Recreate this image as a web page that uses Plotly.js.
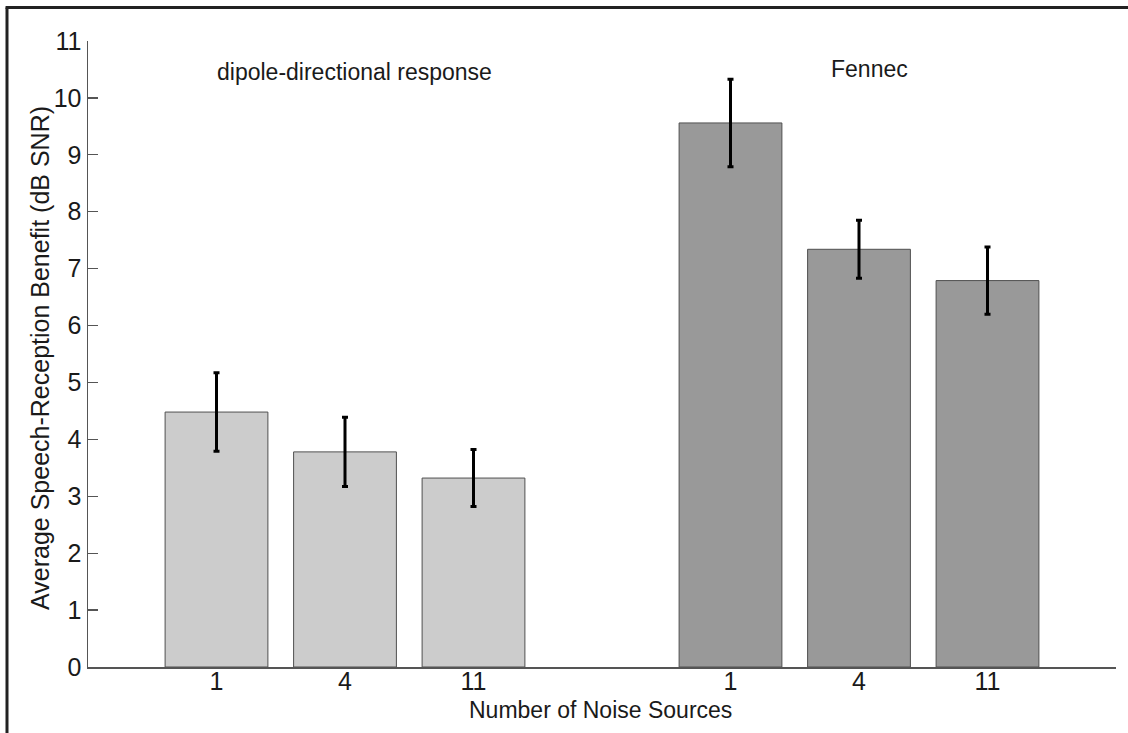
<!DOCTYPE html>
<html>
<head>
<meta charset="utf-8">
<script src="https://cdn.plot.ly/plotly-3.0.1.min.js"></script>
<style>
  html, body { margin: 0; padding: 0; background: #fff; }
  #chart { width: 1128px; height: 733px; }
</style>
</head>
<body>
<div id="chart"></div>
<script>
// Data
const noiseSources = ['1', '4', '11'];
const groupNames = ['dipole-directional response', 'Fennec'];
const xAxisTitle = 'Number of Noise Sources';
const yAxisTitle = 'Average Speech-Reception Benefit (dB SNR)';
const dipoleValues = [4.48, 3.78, 3.32];
const dipoleErrors = [0.69, 0.61, 0.50];
const fennecValues = [9.56, 7.34, 6.79];
const fennecErrors = [0.77, 0.51, 0.59];
const yTicks = [0, 1, 2, 3, 4, 5, 6, 7, 8, 9, 10, 11];

// Bar slots: group 1 at 1..3, gap, group 2 at 5..7
const dipoleX = noiseSources.map((_, i) => i + 1);
const fennecX = noiseSources.map((_, i) => i + 5);

const font = "'Liberation Sans', Arial, sans-serif";
const txt = '#1a1a1a';

const traces = [
  {
    type: 'bar', x: dipoleX, y: dipoleValues, width: 0.8,
    marker: { color: '#cccccc', line: { color: '#505050', width: 1 } },
    error_y: { type: 'data', array: dipoleErrors, visible: true, color: '#000000', thickness: 3, width: 3 },
    showlegend: false, hoverinfo: 'y'
  },
  {
    type: 'bar', x: fennecX, y: fennecValues, width: 0.8,
    marker: { color: '#999999', line: { color: '#505050', width: 1 } },
    error_y: { type: 'data', array: fennecErrors, visible: true, color: '#000000', thickness: 3, width: 3 },
    showlegend: false, hoverinfo: 'y'
  }
];

const layout = {
  width: 1128, height: 733,
  margin: { l: 88, r: 12, t: 41, b: 66 },
  paper_bgcolor: '#ffffff', plot_bgcolor: '#ffffff',
  font: { family: font, color: txt, size: 21 },
  bargap: 0,
  xaxis: {
    range: [0, 8],
    tickmode: 'array',
    tickvals: dipoleX.concat(fennecX),
    ticktext: noiseSources.concat(noiseSources),
    ticks: '', ticklabelstandoff: -9,
    showgrid: false, zeroline: false,
    showline: true, linecolor: '#555555', linewidth: 1.5,
    tickfont: { family: font, size: 25, color: txt }
  },
  yaxis: {
    range: [0, 11],
    tickmode: 'array',
    tickvals: yTicks,
    ticks: 'inside', ticklen: 10, tickwidth: 1.2, tickcolor: '#555555',
    showgrid: false, zeroline: false,
    showline: true, linecolor: '#555555', linewidth: 1.5,
    tickfont: { family: font, size: 25, color: txt }
  },
  annotations: [
    { x: 2.07, y: 10.46, xref: 'x', yref: 'y', text: groupNames[0], showarrow: false,
      font: { family: font, size: 23, color: txt }, xanchor: 'center', yanchor: 'middle' },
    { x: 6.08, y: 10.5, xref: 'x', yref: 'y', text: groupNames[1], showarrow: false,
      font: { family: font, size: 23, color: txt }, xanchor: 'center', yanchor: 'middle' },
    { x: 0.499, y: -0.068, xref: 'paper', yref: 'paper', text: xAxisTitle, showarrow: false,
      font: { family: font, size: 23, color: txt }, xanchor: 'center', yanchor: 'middle' },
    { x: -0.0465, y: 0.494, xref: 'paper', yref: 'paper', text: yAxisTitle, showarrow: false, textangle: -90,
      font: { family: font, size: 25, color: txt }, xanchor: 'center', yanchor: 'middle' }
  ],
  shapes: [
    { type: 'line', xref: 'paper', yref: 'paper', x0: -0.0788, x1: -0.0788, y0: 1.0535, y1: -0.12,
      line: { color: '#222222', width: 3 } },
    { type: 'line', xref: 'paper', yref: 'paper', x0: -0.0802, x1: 1.02, y0: 1.0535, y1: 1.0535,
      line: { color: '#222222', width: 3 } }
  ]
};

Plotly.newPlot('chart', traces, layout, { staticPlot: true, displayModeBar: false });
</script>
</body>
</html>
